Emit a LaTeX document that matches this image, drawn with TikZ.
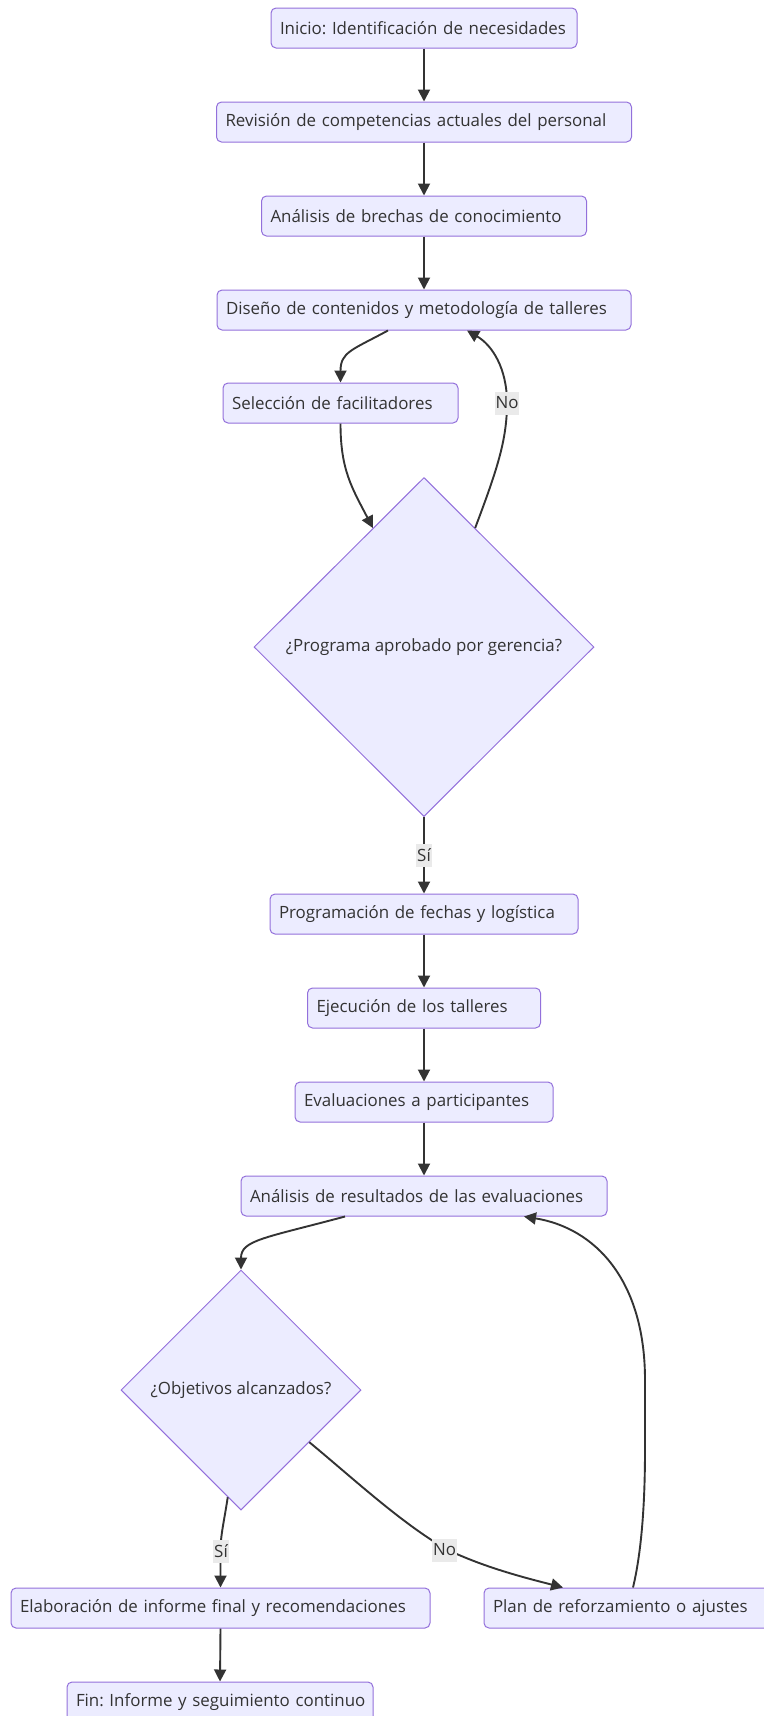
\documentclass[tikz,border=0pt]{standalone}
\usepackage{fontspec}
\setmainfont{Open Sans}
\frenchspacing
\usetikzlibrary{shapes.geometric, arrows.meta, calc}
\definecolor{nodefill}{HTML}{ECECFF}
\definecolor{nodeline}{HTML}{9370DB}
\definecolor{edgecol}{HTML}{333333}
\definecolor{txtcol}{HTML}{333333}
\definecolor{lblfill}{HTML}{EAEAEA}

\begin{document}
\begin{tikzpicture}[x=1pt, y=-1pt,
  every node/.style={font=\fontsize{16.9}{20}\selectfont, text=txtcol},
  stepbox/.style={draw=nodeline, fill=nodefill, line width=1pt, rounded corners=5pt,
    minimum height=40pt, inner xsep=9pt, inner ysep=0pt, align=left},
  decision/.style={diamond, draw=nodeline, fill=nodefill, line width=1pt,
    inner sep=0pt, shape aspect=1},
  flow/.style={draw=edgecol, line width=1.9pt, -{Triangle[length=12pt,width=12pt]}},
  edgelabel/.style={fill=lblfill, inner xsep=1pt, inner ysep=0pt, minimum height=23pt},
]
\useasboundingbox (0,0) rectangle (763,1716);

% process steps
\node[stepbox, text width=288pt] (ini)  at (424,28)   {\mbox{Inicio: Identificación de necesidades}};
\node[stepbox, text width=397pt] (rev)  at (424,122)  {\mbox{Revisión de competencias actuales del personal}};
\node[stepbox, text width=307pt] (bre)  at (424,216)  {\mbox{Análisis de brechas de conocimiento}};
\node[stepbox, text width=396pt] (dis)  at (424,310)  {\mbox{Diseño de contenidos y metodología de talleres}};
\node[stepbox, text width=217pt] (sel)  at (340.5,403) {\mbox{Selección de facilitadores}};
\node[decision, minimum width=340pt, minimum height=339pt] (d1) at (424,647) {¿Programa aprobado por gerencia?};
\node[stepbox, text width=290pt] (prog) at (424,914)  {\mbox{Programación de fechas y logística}};
\node[stepbox, text width=215pt] (eje)  at (424,1008) {\mbox{Ejecución de los talleres}};
\node[stepbox, text width=240pt] (eva)  at (424,1102) {\mbox{Evaluaciones a participantes}};
\node[stepbox, text width=348pt] (ana)  at (424,1196) {\mbox{Análisis de resultados de las evaluaciones}};
\node[decision, minimum width=240pt, minimum height=240pt] (d2) at (241,1390) {¿Objetivos alcanzados?};
\node[stepbox, text width=401pt] (ela)  at (220.5,1608) {\mbox{Elaboración de informe final y recomendaciones}};
\node[stepbox, text width=270pt] (plan) at (628,1608) {\mbox{Plan de reforzamiento o ajustes}};
\node[stepbox, text width=288pt] (fin)  at (220,1702) {\mbox{Fin: Informe y seguimiento continuo}};

% connectors
\draw[flow] (ini.south) -- (rev.north);
\draw[flow] (rev.south) -- (bre.north);
\draw[flow] (bre.south) -- (dis.north);
\draw[flow] ([xshift=-36pt]dis.south) .. controls (352,350) and (340.5,352) .. (sel.north);
\draw[flow] (sel.south) .. controls (340.5,470) and (352,488) .. ($(d1.north)!0.3!(d1.west)$);
\draw[flow] ($(d1.north)!0.3!(d1.east)$) .. controls (497,470) and (507,440) .. (507,403)
  .. controls (507,368) and (492,345) .. ([xshift=43pt]dis.south);
\draw[flow] (d1.south) -- node[edgelabel] (si1) {Sí} (prog.north);
\draw[flow] (prog.south) -- (eje.north);
\draw[flow] (eje.south) -- (eva.north);
\draw[flow] (eva.south) -- (ana.north);
\draw[flow] ([xshift=-79pt]ana.south) .. controls (265,1238) and (241,1240) .. (d2.north);
\draw[flow] ($(d2.south)!0.11!(d2.west)$) .. controls (224,1522) and (220.5,1535) .. (220.5,1551) -- (ela.north);
\draw[flow] ($(d2.east)!0.433!(d2.south)$) .. controls (355,1480) and (400,1522) .. (446,1549)
  .. controls (485,1568) and (530,1579) .. ([xshift=-65pt]plan.north);
\draw[flow] ([xshift=5pt]plan.north) .. controls (642,1550) and (645,1500) .. (645,1450)
  -- (645,1380) .. controls (645,1280) and (595,1228) .. ([xshift=100pt]ana.south);
\draw[flow] (ela.south) -- (fin.north);

% edge labels
\node[edgelabel] (no1) at (507,403) {No};
\node[edgelabel] (si2) at (221,1551) {Sí};
\node[edgelabel] (no2) at (444.5,1550) {No};
\end{tikzpicture}
\end{document}
